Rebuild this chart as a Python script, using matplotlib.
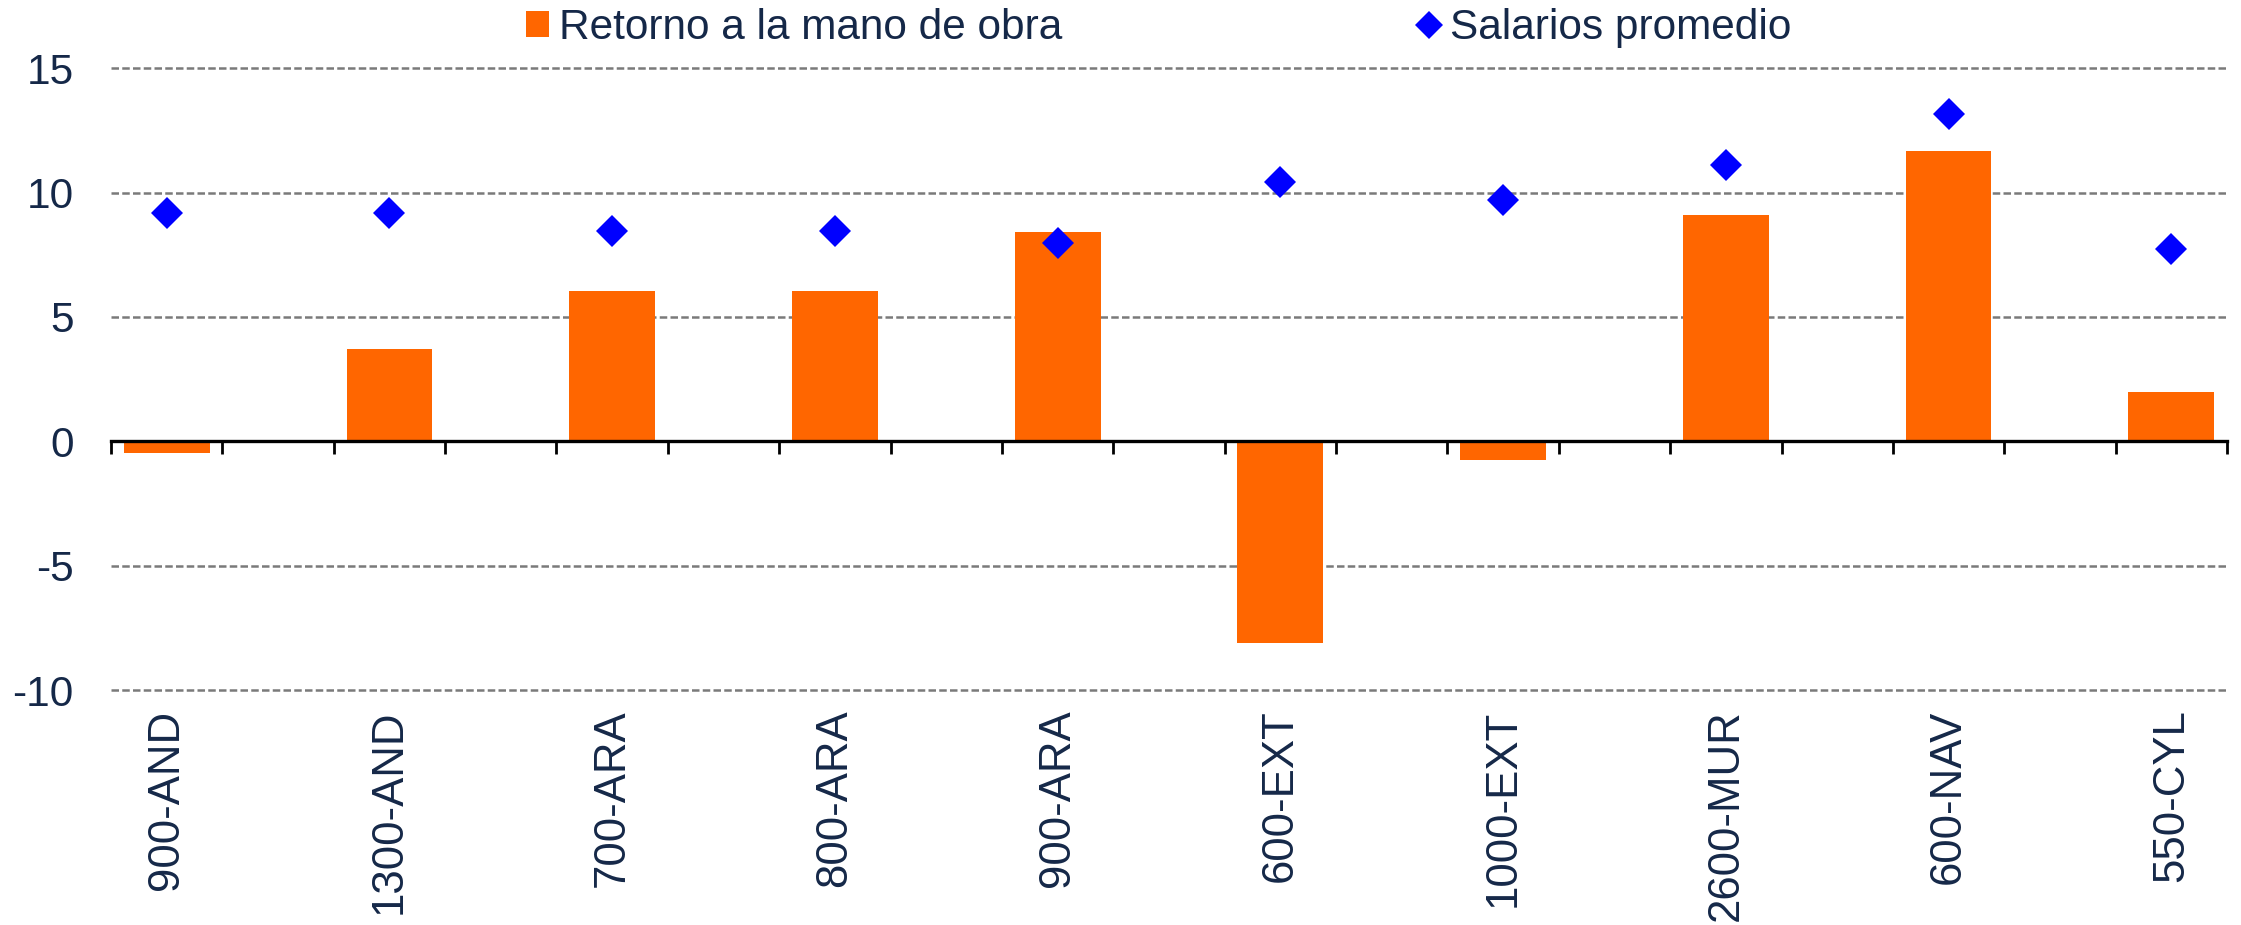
import matplotlib
matplotlib.use("Agg")
import matplotlib.pyplot as plt
import numpy as np
from matplotlib.patches import Patch
from matplotlib.lines import Line2D

# ---- data ----
categories = ["900-AND", "1300-AND", "700-ARA", "800-ARA", "900-ARA",
              "600-EXT", "1000-EXT", "2600-MUR", "600-NAV", "550-CYL"]
retorno = [-0.47, 3.70, 6.05, 6.05, 8.42, -8.09, -0.75, 9.11, 11.67, 1.99]
salarios = [9.17, 9.17, 8.47, 8.47, 7.96, 10.43, 9.69, 11.11, 13.15, 7.74]
y_ticks = [-10, -5, 0, 5, 10, 15]
legend_labels = ["Retorno a la mano de obra", "Salarios promedio"]

# ---- style ----
ORANGE = "#FF6600"
BLUE = "#0000FF"
TEXT = "#152848"
plt.rcParams["font.family"] = ["Liberation Sans", "DejaVu Sans"]

W, H, DPI = 2241, 925, 100
fig = plt.figure(figsize=(W / DPI, H / DPI), dpi=DPI)
ax = fig.add_axes([111 / W, 1 - 690 / H, (2227 - 111) / W, (690 - 68.3) / H])

# the original chart has a blank slot between consecutive categories
n_slots = 2 * len(categories) - 1
pos = np.arange(len(categories)) * 2

ax.bar(pos, retorno, width=0.77, color=ORANGE, zorder=2)
ax.plot(pos, salarios, linestyle="none", marker="D", markersize=16.8,
        color=BLUE, markeredgewidth=0, zorder=3)

ax.set_xlim(-0.5, n_slots - 0.5)
ax.set_ylim(-10, 15)

# grid lines (excluding zero)
for y in y_ticks:
    if y != 0:
        ax.axhline(y, color="#7a7a7a", lw=1.8, ls=(0, (3.0, 1.3)),
                   zorder=1, clip_on=False)

for s in ["top", "right", "left", "bottom"]:
    ax.spines[s].set_visible(False)

ax.set_yticks(y_ticks)
ax.set_yticklabels([str(v) for v in y_ticks], fontsize=30.5, color=TEXT)
ax.tick_params(axis="y", length=0, pad=27)

ax.set_xticks(pos)
ax.set_xticklabels(categories, rotation=90, fontsize=31.5, color=TEXT)
ax.tick_params(axis="x", length=0, pad=14)

# zero axis line with category boundary ticks
sec = ax.secondary_xaxis(10 / 25)
sec.set_xticks(np.arange(n_slots + 1) - 0.5)
sec.set_xticklabels([])
sec.tick_params(axis="x", length=9, width=2, color="black", direction="out")
sec.spines["bottom"].set_linewidth(2.4)
sec.spines["bottom"].set_color("black")
sec.set_zorder(4)

# legend
handles = [
    Patch(facecolor=ORANGE, edgecolor="none"),
    Line2D([], [], linestyle="none", marker="D", markersize=14.3,
           color=BLUE, markeredgewidth=0),
]
leg = fig.legend(handles, legend_labels, loc="center left",
                 bbox_to_anchor=(526 / W, 1 - 28 / H), ncol=2, frameon=False,
                 fontsize=30.5, handlelength=0.55, handleheight=0.55,
                 handletextpad=0.22, columnspacing=8.4, borderpad=0,
                 borderaxespad=0)
for t in leg.get_texts():
    t.set_color(TEXT)

fig.savefig("out.png", dpi=DPI)
